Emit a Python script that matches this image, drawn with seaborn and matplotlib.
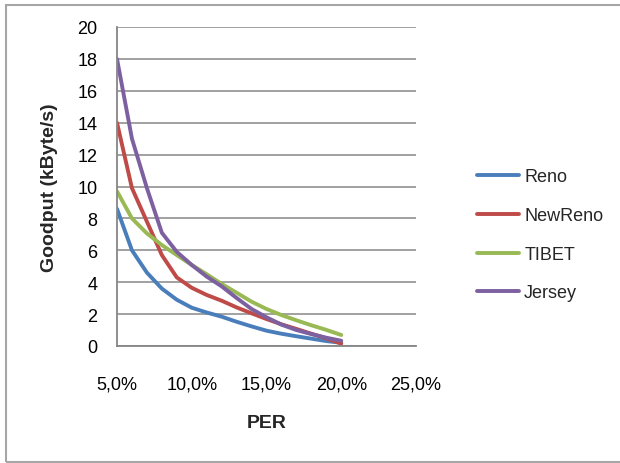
import matplotlib
matplotlib.use("Agg")
import matplotlib.pyplot as plt
import seaborn as sns
import pandas as pd
from matplotlib.patches import Rectangle

per = [5, 6, 7, 8, 9, 10, 11, 12, 13, 14, 15, 16, 17, 18, 19, 20]
reno = [8.6, 6.0, 4.6, 3.6, 2.9, 2.4, 2.1, 1.84, 1.52, 1.23, 0.96, 0.77, 0.61, 0.46, 0.31, 0.2]
newreno = [14.0, 9.9, 7.8, 5.7, 4.3, 3.65, 3.2, 2.84, 2.42, 2.05, 1.69, 1.36, 1.07, 0.77, 0.48, 0.15]
tibet = [9.7, 8.0, 7.06, 6.33, 5.7, 5.08, 4.5, 3.89, 3.34, 2.78, 2.32, 1.94, 1.61, 1.3, 1.01, 0.69]
jersey = [18.0, 13.0, 9.9, 7.1, 5.9, 5.08, 4.35, 3.74, 3.01, 2.32, 1.8, 1.34, 1.0, 0.75, 0.52, 0.33]
series_names = ["Reno", "NewReno", "TIBET", "Jersey"]
colors = ["#4A7EBB", "#BE4B48", "#98B954", "#7D60A0"]
x_ticks = [5, 10, 15, 20, 25]
x_tick_labels = ["5,0%", "10,0%", "15,0%", "20,0%", "25,0%"]
y_ticks = list(range(0, 21, 2))

df = pd.DataFrame({
    "PER": per * 4,
    "Goodput": reno + newreno + tibet + jersey,
    "Protocol": sum([[n] * len(per) for n in series_names], []),
})

sns.set_theme(style="white")
plt.rcParams["font.family"] = ["Liberation Sans", "DejaVu Sans"]

fig = plt.figure(figsize=(6.2, 4.64), dpi=100)
ax = fig.add_axes([117 / 620, 1 - 347 / 464, (416 - 117) / 620, (347 - 28) / 464])

sns.lineplot(data=df, x="PER", y="Goodput", hue="Protocol", hue_order=series_names,
             palette=colors, linewidth=2.8, ax=ax, legend=True)

ax.set_xlim(5, 25)
ax.set_ylim(0, 20)
ax.set_xticks(x_ticks)
ax.set_xticklabels(x_tick_labels)
ax.set_yticks(y_ticks)
ax.tick_params(axis="both", labelsize=13, length=0, colors="black")
ax.tick_params(axis="x", pad=21)
ax.tick_params(axis="y", pad=14)
ax.yaxis.grid(True, color="#9A9A9A", linewidth=1.3)
ax.xaxis.grid(False)
for s in ["top", "right"]:
    ax.spines[s].set_visible(False)
for s in ["left", "bottom"]:
    ax.spines[s].set_color("#868686")
    ax.spines[s].set_linewidth(1.3)
ax.set_axisbelow(True)

ax.set_xlabel("PER", fontsize=14, fontweight="bold", labelpad=16)
ax.set_ylabel("Goodput (kByte/s)", fontsize=14, fontweight="bold", labelpad=14)

leg = ax.legend(loc="center left", bbox_to_anchor=((470 - 117) / 299, 1 - (236 - 28) / 319),
                frameon=False, fontsize=13, handlelength=2.3, handletextpad=0.3,
                labelspacing=1.2, borderaxespad=0)
for line in leg.get_lines():
    line.set_linewidth(2.8)

fig.patches.append(Rectangle((5.5 / 620, 1.5 / 464), 1.0, (464 - 7) / 464,
                             transform=fig.transFigure, fill=False,
                             edgecolor="#A6A6A6", linewidth=1.5))

fig.savefig("out.png", dpi=100)
